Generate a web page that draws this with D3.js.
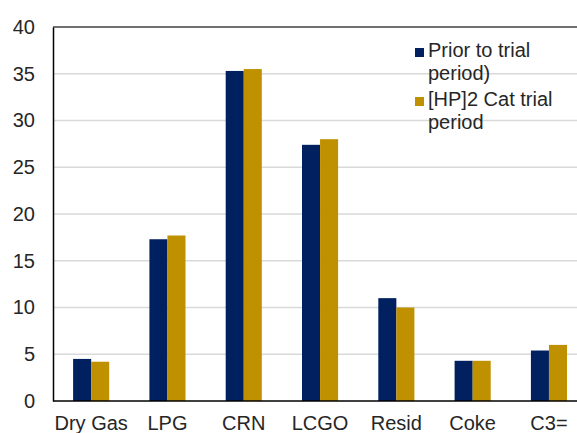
<!DOCTYPE html>
<html>
<head>
<meta charset="utf-8">
<script src="https://cdn.jsdelivr.net/npm/d3@7"></script>
<style>
  html, body { margin: 0; padding: 0; background: #fff; }
  svg { display: block; font-family: "Liberation Sans", Arial, sans-serif; }
</style>
</head>
<body>
<svg id="chart" width="577" height="433"></svg>
<script>
// Product yields by category, before and during the catalyst trial
const categories = ["Dry Gas", "LPG", "CRN", "LCGO", "Resid", "Coke", "C3="];
const priorValues = [4.5, 17.3, 35.3, 27.4, 11.0, 4.3, 5.4];
const trialValues = [4.2, 17.7, 35.5, 28.0, 10.0, 4.3, 6.0];
const seriesColors = ["#002060", "#BF9000"];
const yTicks = [0, 5, 10, 15, 20, 25, 30, 35, 40];
const legendLines = [["Prior to trial", "period)"], ["[HP]2 Cat trial", "period"]];

const svg = d3.select("#chart");
const plotLeft = 53, plotTop = 27, plotBottom = 401, plotRight = 577;
const band = 76.3;
const fontSize = 20;
const textColor = "#262626";

const x = d3.scaleBand()
  .domain(categories)
  .range([plotLeft, plotLeft + band * categories.length])
  .paddingInner(0.527)
  .paddingOuter(0.2635);

const xSub = d3.scaleBand()
  .domain([0, 1])
  .range([0, x.bandwidth()]);

const y = d3.scaleLinear().domain([0, 40]).range([plotBottom, plotTop]);

// Horizontal gridlines
svg.append("g")
  .selectAll("line")
  .data(yTicks.filter(d => d > 0 && d < 40))
  .join("line")
  .attr("x1", plotLeft).attr("x2", plotRight)
  .attr("y1", d => y(d)).attr("y2", d => y(d))
  .attr("stroke", "#d9d9d9").attr("stroke-width", 1.5);

// Bars
const rows = categories.map((c, i) => ({ c, v: [priorValues[i], trialValues[i]] }));
const groups = svg.append("g")
  .selectAll("g")
  .data(rows)
  .join("g")
  .attr("transform", d => `translate(${x(d.c)},0)`);

groups.selectAll("rect")
  .data(d => d.v.map((v, k) => ({ v, k })))
  .join("rect")
  .attr("x", d => xSub(d.k))
  .attr("width", xSub.bandwidth())
  .attr("y", d => y(d.v))
  .attr("height", d => plotBottom - y(d.v))
  .attr("fill", d => seriesColors[d.k]);

// Plot frame: top border, left and bottom axis lines
svg.append("line")
  .attr("x1", plotLeft).attr("x2", plotRight).attr("y1", plotTop).attr("y2", plotTop)
  .attr("stroke", "#404040").attr("stroke-width", 1.5);

const yAxis = d3.axisLeft(y).tickValues(yTicks).tickSize(0).tickPadding(18);
const gy = svg.append("g").attr("transform", `translate(${plotLeft},0)`).call(yAxis);
gy.select(".domain").attr("stroke", "#000").attr("stroke-width", 1.5);
gy.selectAll("text")
  .attr("font-size", fontSize).attr("fill", textColor)
  .attr("font-family", "Liberation Sans, Arial, sans-serif");

const xAxis = d3.axisBottom(x).tickSize(0).tickPadding(15);
const gx = svg.append("g").attr("transform", `translate(0,${plotBottom})`).call(xAxis);
gx.select(".domain").attr("stroke", "#000").attr("stroke-width", 1.5)
  .attr("d", `M${plotLeft},0H${plotRight}`);
gx.selectAll("text")
  .attr("font-size", fontSize).attr("fill", textColor)
  .attr("font-family", "Liberation Sans, Arial, sans-serif");

// Legend
const legend = svg.append("g").attr("transform", "translate(415,0)");
const legendBase = [57, 106];
legendLines.forEach((lines, i) => {
  const baseY = legendBase[i];
  legend.append("rect")
    .attr("x", 0).attr("y", baseY - 9)
    .attr("width", 9).attr("height", 9)
    .attr("fill", seriesColors[i]);
  lines.forEach((t, j) => {
    legend.append("text")
      .attr("x", 13).attr("y", baseY + j * 23)
      .attr("font-size", fontSize).attr("fill", textColor)
      .text(t);
  });
});
</script>
</body>
</html>
